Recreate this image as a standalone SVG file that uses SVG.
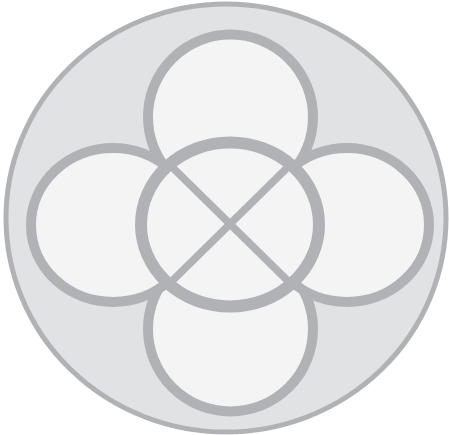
<svg xmlns="http://www.w3.org/2000/svg" width="449" height="435" viewBox="0 0 449 435">
<style>
.ring{fill:#f4f4f5;stroke:#b1b2b5;stroke-width:10}
.outer{fill:#e1e2e4;stroke:#b1b2b5;stroke-width:5}
.bar{stroke:#b1b2b5;stroke-width:7.5;stroke-linecap:butt}
</style>
<rect width="449" height="435" fill="#ffffff"/>
<g id="outer"><ellipse class="outer" cx="226" cy="218" rx="220" ry="214"/></g>
<g id="top"><circle class="ring" cx="230.5" cy="117" r="82.5"/></g>
<g id="bottom"><circle class="ring" cx="230.5" cy="329" r="82.5"/></g>
<g id="left"><ellipse class="ring" cx="113" cy="225" rx="82" ry="77"/></g>
<g id="right"><ellipse class="ring" cx="347" cy="225" rx="82" ry="77"/></g>
<g id="center"><ellipse class="ring" cx="230" cy="224.5" rx="89" ry="82" style="stroke-width:12"/></g>
<g id="connectors">
<line class="bar" x1="168" y1="163" x2="292" y2="285"/>
<line class="bar" x1="292" y1="163" x2="168" y2="285"/>
</g>
</svg>
